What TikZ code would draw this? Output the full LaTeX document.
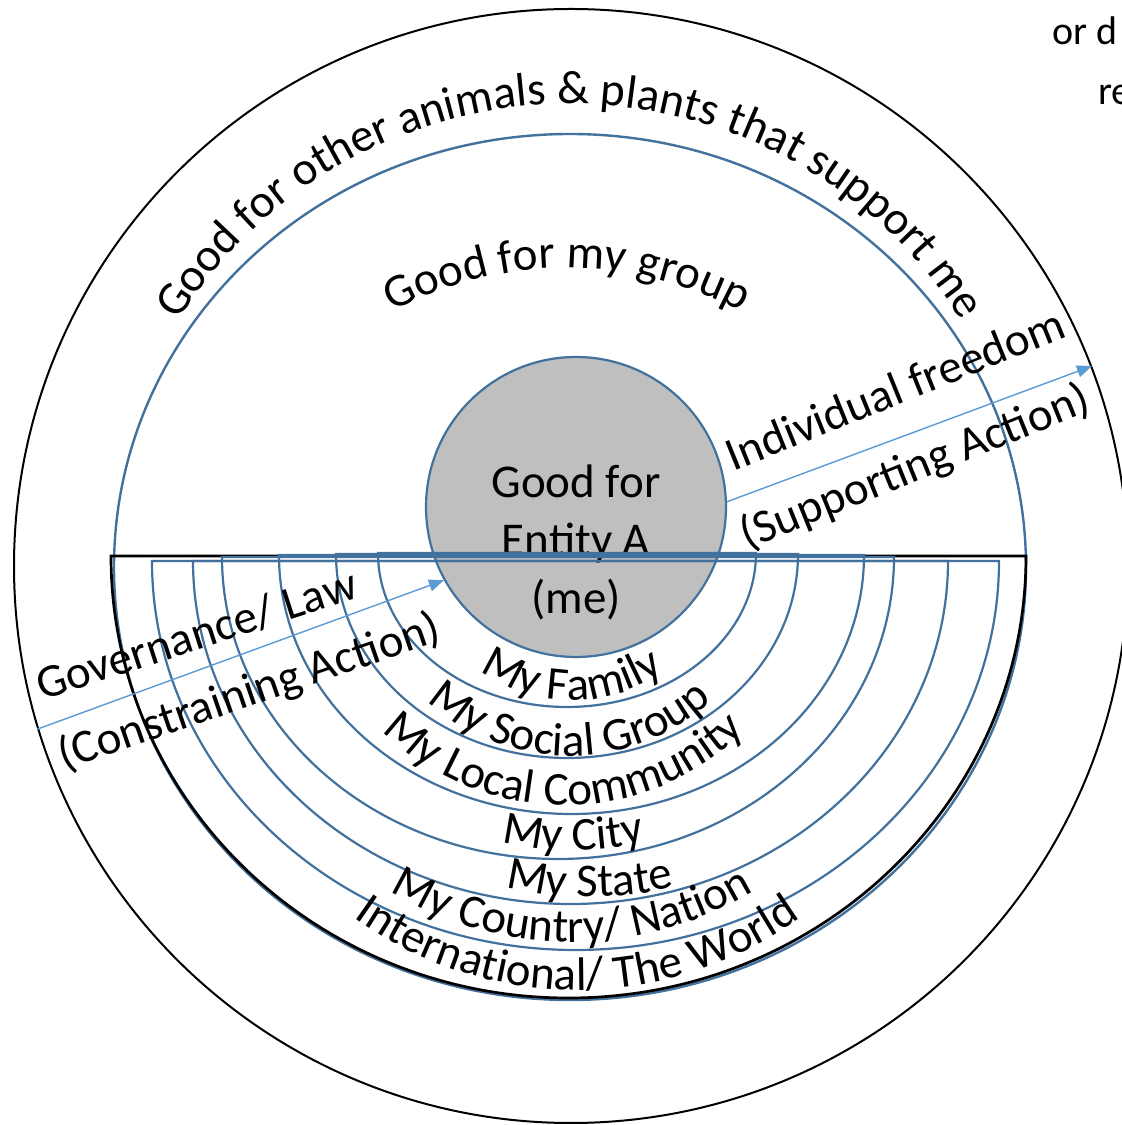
\documentclass[tikz,border=0pt]{standalone}
\usepackage{fontspec}
\setmainfont{Carlito}
\usepackage{tikz}
\usetikzlibrary{arrows.meta,decorations.text}
\definecolor{ringblue}{RGB}{65,113,156}
\definecolor{arrowblue}{RGB}{91,155,213}
\definecolor{coregray}{RGB}{191,191,191}
\newcommand{\diagfont}{\fontsize{23.5}{29}\selectfont}

\begin{document}
\begin{tikzpicture}[x=0.5pt, y=0.5pt,
    ring/.style={draw=ringblue, line width=1.1pt},
    plain/.style={font=\diagfont, inner sep=0pt},
    arctext/.style={decorate, decoration={text along path, text align=center, text={|\diagfont|#1}}},
    arrowline/.style={draw=arrowblue, line width=0.7pt, -{Triangle[length=7.5pt, width=6pt]}}]
                \path[fill=white, use as bounding box] (0,0) rectangle (1122,1125);

                % Outer circle
                \node[circle, draw, line width=1pt, minimum size=557pt, inner sep=0pt] (world) at (571,559) {};

                % Group ring
                \draw[ring, line width=1.2pt] (570,558) ellipse[x radius=456, y radius=433];

                % Entity A
                \node[circle, draw=ringblue, fill=coregray, line width=1.1pt, minimum size=150pt, inner sep=0pt] (me) at (576,618) {};
                \node[plain, align=center, anchor=north] (metext) at (576,661) {Good for\\Entity A\\(me)};

                % Half rings
                \draw[line width=1.35pt] (111,569) arc[start angle=180, end angle=360, x radius=457.5, y radius=442] -- cycle;
                \foreach \cx/\rx/\ry/\ytop in {567/189/154/572, 567/231/204/571, 571.5/292.5/259/570,
                        558/336/302/568, 570.5/377.5/343/564, 575.5/423.5/389/564}
                    \draw[ring] (\cx-\rx,\ytop) arc[start angle=180, end angle=360, x radius=\rx, y radius=\ry] -- cycle;

                % Arc labels
                \path[arctext={Good for other animals {\&} plants that support me}] (570,559) ++(150:462) arc[start angle=150, end angle=30, radius=462];
                \path[arctext={Good for my group}] (567,492) ++(130:365) arc[start angle=130, end angle=50, radius=365];
                \path[arctext={My Family}] (572,584) ++(215:159) arc[start angle=215, end angle=325, radius=159];
                \path[arctext={My Social Group}] (570,579) ++(210:210) arc[start angle=210, end angle=330, radius=210];
                \path[arctext={My Local Community}] (564,579) ++(210:259) arc[start angle=210, end angle=330, radius=259];
                \path[arctext={My City}] (573,580) ++(240:305) arc[start angle=240, end angle=300, radius=305];
                \path[arctext={My State}] (590,580) ++(240:352) arc[start angle=240, end angle=300, radius=352];
                \path[arctext={My Country/ Nation}] (572,533) ++(220:350) arc[start angle=220, end angle=320, radius=350];
                \path[arctext={International/ The World}] (577,517) ++(215:382) arc[start angle=215, end angle=325, radius=382];

                % Actions
                \node[plain, rotate=22, anchor=base] (freedom) at (901,721) {Individual freedom};
                \node[plain, rotate=22, anchor=base] (supporting) at (920,645) {(Supporting Action)};
                \node[plain, rotate=18, anchor=base] (governance) at (201,476) {Governance/ Law};
                \node[plain, rotate=19, anchor=base] (constraining) at (254,420) {(Constraining Action)};

                % Cut-off text
                \node[font=\fontsize{20}{24}\selectfont, inner sep=0pt, anchor=base west] (cutone) at (1052,1080) {or d};
                \node[font=\fontsize{20}{24}\selectfont, inner sep=0pt, anchor=base west] (cuttwo) at (1098,1020) {re};

                % Arrows
                \draw[arrowline] (world.197.4) -- (me.209.6);
                \draw[arrowline] (me.2) -- (world.21.8);
\end{tikzpicture}
\end{document}
